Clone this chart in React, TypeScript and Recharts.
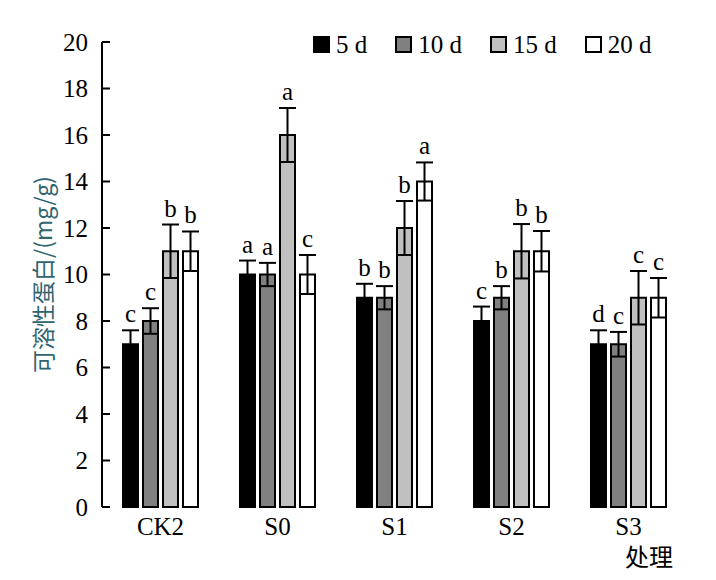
import React from 'react';
import { BarChart, Bar, XAxis, YAxis, ErrorBar, LabelList, Legend } from 'recharts';

const SERIF = '"Liberation Serif", "Times New Roman", "Noto Sans CJK SC", serif';
const CJK = '"Noto Sans CJK SC", "Liberation Serif", serif';

const categories = ['CK2', 'S0', 'S1', 'S2', 'S3'];

// mean values per sampling day
const values5 = [7, 10, 9, 8, 7];
const values10 = [8, 10, 9, 9, 7];
const values15 = [11, 16, 12, 11, 9];
const values20 = [11, 10, 14, 11, 9];

// standard errors
const errors5 = [0.6, 0.6, 0.6, 0.62, 0.6];
const errors10 = [0.55, 0.5, 0.5, 0.5, 0.53];
const errors15 = [1.15, 1.16, 1.16, 1.17, 1.15];
const errors20 = [0.85, 0.84, 0.82, 0.87, 0.85];

// significance letters
const letters5 = ['c', 'a', 'b', 'c', 'd'];
const letters10 = ['c', 'a', 'b', 'b', 'c'];
const letters15 = ['b', 'a', 'b', 'b', 'c'];
const letters20 = ['b', 'c', 'a', 'b', 'c'];

const yTicks = [0, 2, 4, 6, 8, 10, 12, 14, 16, 18, 20];
const groupEdges = [1, 2, 3, 4, 5];

const series = [
  { key: 'd5', name: '5 d', fill: '#000000', values: values5, errors: errors5, letters: letters5 },
  { key: 'd10', name: '10 d', fill: '#808080', values: values10, errors: errors10, letters: letters10 },
  { key: 'd15', name: '15 d', fill: '#c0c0c0', values: values15, errors: errors15, letters: letters15 },
  { key: 'd20', name: '20 d', fill: '#ffffff', values: values20, errors: errors20, letters: letters20 },
];

const data = categories.map((name, i) => {
  const row: Record<string, string | number> = { name };
  series.forEach((s) => {
    row[s.key] = s.values[i];
    row[s.key + 'Err'] = s.errors[i];
    row[s.key + 'Sig'] = s.letters[i];
  });
  return row;
});

// letter sits above the error cap; pixel size of the error comes from the bar's own scale
const sigLabel = (values: number[], errors: number[]) => (props: any) => {
  const vb = props.viewBox ?? props;
  const { x, y, width, height } = vb;
  const i = props.index;
  const perUnit = height / values[i];
  const capY = y - errors[i] * perUnit;
  return (
    <text x={x + width / 2} y={capY - 8} textAnchor="middle" fontFamily={SERIF} fontSize={25} fill="#000">
      {props.value}
    </text>
  );
};

// legend drawn in series order (recharts would sort the payload by name)
const renderLegend = () => (
  <div style={{ display: 'flex', alignItems: 'center', fontFamily: SERIF, fontSize: 25, color: '#000' }}>
    {series.map((s) => (
      <div key={s.key} style={{ display: 'flex', alignItems: 'center', marginRight: 28 }}>
        <span
          style={{
            width: 17,
            height: 17,
            boxSizing: 'border-box',
            border: '2px solid #000',
            background: s.fill,
            marginRight: 6,
            display: 'inline-block',
          }}
        />
        <span style={{ lineHeight: 1, whiteSpace: 'nowrap' }}>{s.name}</span>
      </div>
    ))}
  </div>
);

const yLabel = (props: any) => {
  const vb = props.viewBox;
  const cx = vb.x + 34;
  const cy = vb.y + vb.height / 2;
  return (
    <text
      x={cx}
      y={cy}
      transform={`rotate(-90, ${cx}, ${cy})`}
      textAnchor="middle"
      dominantBaseline="central"
      fontFamily={CJK}
      fontSize={23}
      fill="#2f6470"
    >
      可溶性蛋白/(mg/g)
    </text>
  );
};

const xLabel = (props: any) => {
  const vb = props.viewBox;
  return (
    <text x={vb.x + vb.width - 14} y={vb.y + vb.height - 6} textAnchor="end" fontFamily={CJK} fontSize={24} fill="#000">
      处理
    </text>
  );
};

export default function App() {
  return (
    <div style={{ width: 700, height: 572 }}>
      <BarChart
        width={700}
        height={572}
        data={data}
        margin={{ top: 34, right: 21, left: 0, bottom: 8 }}
        barSize={15}
        barGap={5}
      >
        <XAxis
          xAxisId={0}
          type="number"
          domain={[0, 5]}
          allowDataOverflow
          ticks={groupEdges}
          height={0}
          tick={false}
          tickSize={-11}
          axisLine={{ stroke: '#000', strokeWidth: 2 }}
          tickLine={{ stroke: '#000', strokeWidth: 2 }}
        />
        <XAxis
          xAxisId={1}
          dataKey="name"
          type="category"
          height={65}
          axisLine={false}
          tickLine={false}
          tickSize={0}
          tickMargin={10}
          tick={{ fill: '#000', fontSize: 25, fontFamily: SERIF }}
          label={{ content: xLabel }}
        />
        <YAxis
          domain={[0, 20]}
          ticks={yTicks}
          width={94}
          interval={0}
          tickSize={-8}
          tickMargin={22}
          axisLine={{ stroke: '#000', strokeWidth: 2 }}
          tickLine={{ stroke: '#000', strokeWidth: 2 }}
          tick={{ fill: '#000', fontSize: 25, fontFamily: SERIF }}
          label={{ content: yLabel }}
        />
        <Legend
          verticalAlign="middle"
          align="center"
          layout="horizontal"
          content={renderLegend}
          wrapperStyle={{ top: 24, left: 305, width: 'auto' }}
        />
        {series.map((s) => (
          <Bar
            key={s.key}
            xAxisId={1}
            dataKey={s.key}
            name={s.name}
            fill={s.fill}
            stroke="#000"
            strokeWidth={2}
            isAnimationActive={false}
          >
            <ErrorBar dataKey={s.key + 'Err'} width={8.5} stroke="#000" strokeWidth={2} direction="y" />
            <LabelList dataKey={s.key + 'Sig'} content={sigLabel(s.values, s.errors)} />
          </Bar>
        ))}
      </BarChart>
    </div>
  );
}
